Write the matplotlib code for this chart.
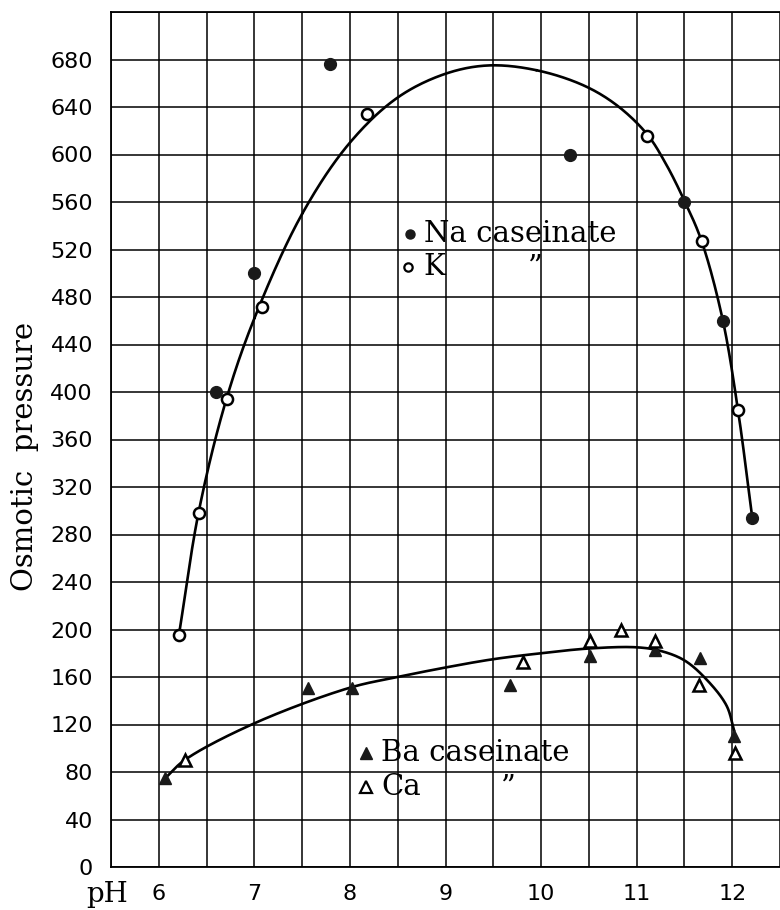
import numpy as np
import matplotlib.pyplot as plt

# Osmotic pressure of caseinates against pH
na_ph = [6.60, 7.00, 7.79, 10.30, 11.50, 11.90, 12.21]
na_p = [400, 500, 676, 600, 560, 460, 294]

k_ph = [6.21, 6.42, 6.71, 7.08, 8.18, 11.11, 11.68, 12.06]
k_p = [195, 298, 394, 472, 634, 616, 527, 385]

ba_ph = [6.07, 7.56, 8.02, 9.67, 10.51, 11.19, 11.66, 12.02]
ba_p = [75, 151, 151, 153, 178, 183, 176, 110]

ca_ph = [6.27, 9.81, 10.51, 10.84, 11.19, 11.65, 12.03]
ca_p = [90, 173, 190, 200, 190, 153, 96]

# hand-drawn curves through the points (knots)
alk_curve_ph = [6.21, 6.42, 6.70, 7.00, 7.50, 8.00, 8.50, 9.00, 9.45, 9.95,
                10.45, 10.80, 11.11, 11.30, 11.50, 11.68, 11.90, 12.06, 12.21]
alk_curve_p = [195, 300, 392, 462, 550, 610, 648, 668, 675, 671,
               658, 641, 617, 593, 561, 527, 461, 385, 294]

earth_curve_ph = [6.07, 6.27, 7.00, 8.00, 8.50, 9.00, 9.50, 10.00, 10.50,
                  11.00, 11.25, 11.50, 11.73, 11.94, 12.02]
earth_curve_p = [75, 90, 121, 151, 160, 168, 175, 180, 184,
                 185, 182, 174, 158, 136, 115]

y_ticks = list(range(0, 721, 40))
y_labels = [str(v) if v < 720 else "" for v in y_ticks]
x_ticks = [6, 7, 8, 9, 10, 11, 12]


def catmull_rom(xs, ys, n=30, sx=96.0, sy=1.19, alpha=0.5):
    # centripetal spline, worked in pixel-like units so both axes weigh the same
    p = np.column_stack([np.asarray(xs) * sx, np.asarray(ys) * sy])
    p = np.vstack([2 * p[0] - p[1], p, 2 * p[-1] - p[-2]])
    out = []
    for i in range(1, len(p) - 2):
        p0, p1, p2, p3 = p[i - 1], p[i], p[i + 1], p[i + 2]
        t0 = 0.0
        t1 = t0 + np.linalg.norm(p1 - p0) ** alpha
        t2 = t1 + np.linalg.norm(p2 - p1) ** alpha
        t3 = t2 + np.linalg.norm(p3 - p2) ** alpha
        t = np.linspace(t1, t2, n)[:, None]
        a1 = (t1 - t) / (t1 - t0) * p0 + (t - t0) / (t1 - t0) * p1
        a2 = (t2 - t) / (t2 - t1) * p1 + (t - t1) / (t2 - t1) * p2
        a3 = (t3 - t) / (t3 - t2) * p2 + (t - t2) / (t3 - t2) * p3
        b1 = (t2 - t) / (t2 - t0) * a1 + (t - t0) / (t2 - t0) * a2
        b2 = (t3 - t) / (t3 - t1) * a2 + (t - t1) / (t3 - t1) * a3
        out.append((t2 - t) / (t2 - t1) * b1 + (t - t1) / (t2 - t1) * b2)
    out = np.vstack(out)
    return out[:, 0] / sx, out[:, 1] / sy


fig = plt.figure(figsize=(7.8, 9.1), dpi=100)
ax = fig.add_axes([111 / 780, 1 - 867 / 910, 669 / 780, 855 / 910])

ax.set_xlim(5.5, 5.5 + 669 / 96.17)
ax.set_ylim(0, 720)

ax.set_xticks(x_ticks)
ax.set_xticks(np.arange(5.5, 12.6, 0.5), minor=True)
ax.set_yticks(y_ticks)
ax.set_yticklabels(y_labels)
ax.grid(which="both", color="black", lw=1.1)
ax.set_axisbelow(True)
ax.tick_params(which="both", length=0)
ax.tick_params(axis="y", pad=13, labelsize=16)
ax.tick_params(axis="x", pad=12, labelsize=16)
for s in ["left", "bottom", "top"]:
    ax.spines[s].set_linewidth(1.3)
ax.spines["right"].set_visible(False)

cx, cy = catmull_rom(alk_curve_ph, alk_curve_p)
ax.plot(cx, cy, color="black", lw=1.9, zorder=3)
cx, cy = catmull_rom(earth_curve_ph, earth_curve_p)
ax.plot(cx, cy, color="black", lw=1.9, zorder=3)

ax.plot(na_ph, na_p, "o", color="#1a1a1a", ms=8.5, zorder=4)
ax.plot(k_ph, k_p, "o", mfc="white", mec="black", mew=1.8, ms=8, zorder=4)
ax.plot(ba_ph, ba_p, "^", color="#1a1a1a", ms=9, zorder=4)
ax.plot(ca_ph, ca_p, "^", mfc="white", mec="black", mew=1.8, ms=9, zorder=4)

# key written onto the grid
serif = "DejaVu Serif"
ax.plot([8.63], [533], "o", color="#1a1a1a", ms=6.5, zorder=4)
ax.text(8.77, 533, "Na caseinate", fontsize=21, family=serif, va="center", zorder=5)
ax.plot([8.61], [505], "o", mfc="white", mec="black", mew=1.6, ms=6, zorder=4)
ax.text(8.77, 505, "K", fontsize=21, family=serif, va="center", zorder=5)
ax.text(9.86, 505, "\u201d", fontsize=21, family=serif, va="center", zorder=5)

ax.plot([8.17], [96], "^", color="#1a1a1a", ms=8, zorder=4)
ax.text(8.33, 96, "Ba caseinate", fontsize=21, family=serif, va="center", zorder=5)
ax.plot([8.17], [67], "^", mfc="white", mec="black", mew=1.6, ms=8, zorder=4)
ax.text(8.33, 67, "Ca", fontsize=21, family=serif, va="center", zorder=5)
ax.text(9.58, 67, "\u201d", fontsize=21, family=serif, va="center", zorder=5)

fig.text(25 / 780, 1 - 456 / 910, "Osmotic  pressure", fontsize=21, family=serif,
         rotation=90, ha="center", va="center")
fig.text(107 / 780, 1 - 894 / 910, "pH", fontsize=20, family=serif,
         ha="center", va="center")

fig.savefig("out.png", dpi=100)
